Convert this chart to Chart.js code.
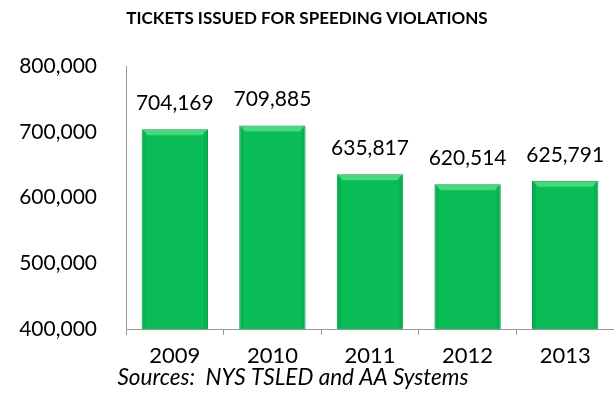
<!DOCTYPE html>
<html>
<head>
<meta charset="utf-8">
<script src="https://cdn.jsdelivr.net/npm/chart.js@4"></script>
<style>
    html, body { margin: 0; padding: 0; background: #fff; }
    #wrap { width: 614px; height: 410px; }
</style>
</head>
<body>
<div id="wrap"><canvas id="myChart"></canvas></div>
<script>
const years = ['2009', '2010', '2011', '2012', '2013'];
const tickets = [704169, 709885, 635817, 620514, 625791];
const yTicks = [400000, 500000, 600000, 700000, 800000];
const sourceNote = 'Sources:  NYS TSLED and AA Systems';

const fontFamily = "Lato, 'Open Sans', sans-serif";
const fmt = v => v.toLocaleString('en-US');

// soft bevel on each bar + value labels above
const barExtras = {
    id: 'barExtras',
    afterDatasetsDraw(chart) {
        const ctx = chart.ctx;
        const meta = chart.getDatasetMeta(0);
        const floor = chart.chartArea.bottom;
        ctx.save();
        meta.data.forEach(bar => {
            const left = bar.x - bar.width / 2;
            const right = bar.x + bar.width / 2;
            const top = bar.y;
            const bottom = Math.min(bar.base, floor);
            const b = 6;
            // top bevel
            ctx.fillStyle = 'rgba(120, 240, 160, 0.55)';
            ctx.beginPath();
            ctx.moveTo(left + 1, top + 1);
            ctx.lineTo(right - 1, top + 1);
            ctx.lineTo(right - b, top + b);
            ctx.lineTo(left + b, top + b);
            ctx.closePath();
            ctx.fill();
            // side shading
            ctx.fillStyle = 'rgba(0, 110, 50, 0.15)';
            ctx.fillRect(left + 1, top + 1, 3, bottom - top - 2);
            ctx.fillRect(right - 4, top + 1, 3, bottom - top - 2);
        });
        ctx.font = "21px " + fontFamily;
        ctx.fillStyle = '#000';
        ctx.textAlign = 'center';
        ctx.textBaseline = 'middle';
        meta.data.forEach((bar, i) => {
            ctx.fillText(fmt(tickets[i]), bar.x, bar.y - 26);
        });
        ctx.restore();
    }
};

// source note under the axis labels
const sourceLine = {
    id: 'sourceLine',
    afterDraw(chart) {
        const ctx = chart.ctx;
        ctx.save();
        ctx.font = "italic 22.5px " + fontFamily;
        ctx.fillStyle = '#000';
        ctx.textAlign = 'center';
        ctx.textBaseline = 'middle';
        ctx.fillText(sourceNote, 293, 378);
        ctx.restore();
    }
};

new Chart(document.getElementById('myChart'), {
    type: 'bar',
    data: {
        labels: years,
        datasets: [{
            data: tickets,
            backgroundColor: '#09BC56',
            borderColor: '#079A44',
            borderWidth: 1,
            barPercentage: 0.68,
            categoryPercentage: 1
        }]
    },
    options: {
        responsive: true,
        maintainAspectRatio: false,
        animation: false,
        layout: { padding: { left: 0, right: 0, top: 0, bottom: 33 } },
        scales: {
            x: {
                grid: {
                    display: true,
                    drawOnChartArea: false,
                    offset: true,
                    tickLength: 6,
                    color: '#999'
                },
                border: { color: '#999' },
                ticks: {
                    color: '#000',
                    font: { family: fontFamily, size: 22, lineHeight: 1 },
                    padding: 10
                }
            },
            y: {
                min: 400000,
                max: 800000,
                afterBuildTicks: axis => {
                    axis.ticks = yTicks.map(v => ({ value: v }));
                },
                afterFit: axis => {
                    axis.width = 126;
                },
                grid: { display: false },
                border: { color: '#999' },
                ticks: {
                    color: '#000',
                    font: { family: fontFamily, size: 21 },
                    padding: 21,
                    callback: v => fmt(v)
                }
            }
        },
        plugins: {
            legend: { display: false },
            tooltip: { enabled: false },
            title: {
                display: true,
                text: 'TICKETS ISSUED FOR SPEEDING VIOLATIONS',
                color: '#000',
                font: { family: fontFamily, size: 17, weight: 'bold' },
                padding: { top: 8, bottom: 38 }
            }
        }
    },
    plugins: [barExtras, sourceLine]
});
</script>
</body>
</html>
